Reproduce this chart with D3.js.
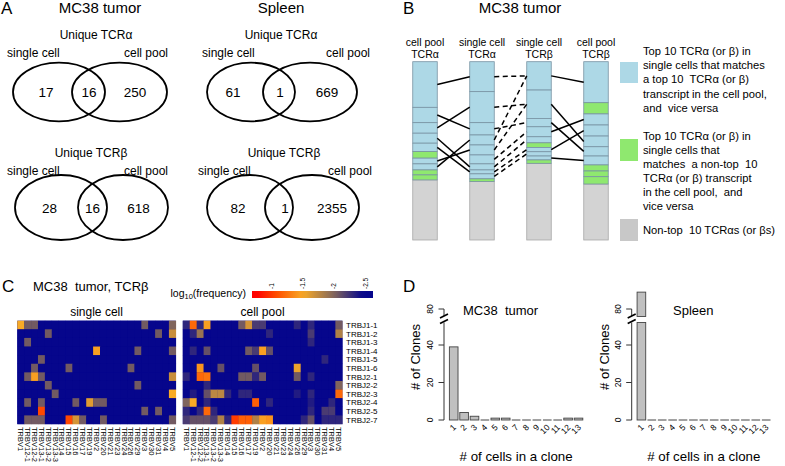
<!DOCTYPE html>
<html><head><meta charset="utf-8">
<script src="https://cdn.jsdelivr.net/npm/d3@7"></script>
<style>
body{margin:0;background:#fff}
svg{display:block}
text{font-family:"Liberation Sans",Arial,Helvetica,sans-serif;fill:#000}
</style>
</head><body>
<svg id="c" width="785" height="466"></svg>
<script>
// ---------------- DATA ----------------
// Panel A: Venn counts (MC38 TCRα, Spleen TCRα, MC38 TCRβ, Spleen TCRβ)
const vennTitles = ["Unique TCRα", "Unique TCRα", "Unique TCRβ", "Unique TCRβ"];
const vennSingleOnly = [17, 61, 28, 82];
const vennShared = [16, 1, 16, 1];
const vennPoolOnly = [250, 669, 618, 2355];
const tissueTitles = ["MC38 tumor", "Spleen"];

// Panel B: top-10 clonotype frequencies (% of transcripts) per column
const colHeader1 = ["cell pool", "single cell", "single cell", "cell pool"];
const colHeader2 = ["TCRα", "TCRα", "TCRβ", "TCRβ"];
const poolAlphaTop10 = [25.6, 8.6, 5.9, 5.6, 4.7, 3.7, 3.2, 3.4, 2.8, 2.8];
const singleAlphaTop10 = [16.8, 17.4, 6.9, 5.6, 5.6, 5.0, 3.4, 2.2, 2.8, 1.5];
const singleBetaTop10 = [15.9, 15.9, 4.7, 5.6, 3.4, 2.6, 2.4, 2.4, 2.2, 1.9];
const poolBetaTop10 = [23.0, 6.3, 6.2, 6.2, 6.0, 5.2, 5.0, 3.4, 3.2, 4.1];
// 1 = matches a top-10 of the other sample, 0 = matches a non-top-10
const poolAlphaMatch = [1, 1, 1, 1, 1, 0, 1, 1, 0, 0];
const singleAlphaMatch = [1, 1, 1, 1, 1, 1, 1, 1, 1, 0];
const singleBetaMatch = [1, 1, 1, 1, 1, 0, 1, 1, 1, 0];
const poolBetaMatch = [1, 0, 1, 1, 1, 1, 1, 0, 0, 0];
// links [from segment, to segment]
const linksPoolToSingleAlpha = [[0,0],[1,2],[2,1],[3,6],[4,7],[6,4],[7,3]];
const linksAlphaToBeta = [[0,0],[1,1],[2,2],[3,0],[4,1],[5,3],[6,4],[7,6],[8,7]];
const linksSingleToPoolBeta = [[0,0],[1,4],[2,5],[3,2],[6,3],[8,6]];
const legendText1 = ["Top 10 TCRα (or β) in", "single cells that matches", "a top 10  TCRα (or β)", "transcript in the cell pool,", "and  vice versa"];
const legendText2 = ["Top 10 TCRα (or β) in", "single cells that", "matches  a non-top  10", "TCRα (or β) transcript", "in the cell pool,  and", "vice versa"];
const legendText3 = ["Non-top  10 TCRαs (or βs)"];

// Panel C: heatmap log10(frequency), entries [row (TRBJ), col (TRBV), value]
const trbvGenes = ["TRBV1","TRBV12-1","TRBV12-2","TRBV13-1","TRBV13-2","TRBV13-3","TRBV14","TRBV15","TRBV16","TRBV17","TRBV19","TRBV2","TRBV20","TRBV21","TRBV23","TRBV24","TRBV26","TRBV29","TRBV3","TRBV30","TRBV31","TRBV4","TRBV5"];
const trbjGenes = ["TRBJ1-1","TRBJ1-2","TRBJ1-3","TRBJ1-4","TRBJ1-5","TRBJ1-6","TRBJ2-1","TRBJ2-2","TRBJ2-3","TRBJ2-4","TRBJ2-5","TRBJ2-7"];
const singleCellLogFreq = [
 [0,0,-1.5],[0,1,-2.05],[0,2,-2.05],[0,18,-2.05],[0,22,-2.0],
 [1,4,-2.05],[1,20,-2.05],[1,22,-1.7],
 [2,1,-2.05],
 [3,11,-1.45],[3,17,-2.05],[3,22,-2.05],
 [4,3,-2.05],
 [5,2,-2.05],[5,7,-2.05],[5,16,-2.05],
 [6,1,-2.05],[6,2,-1.45],[6,3,-2.05],[6,22,-1.7],
 [7,4,-2.05],[7,17,-2.05],
 [8,5,-2.05],[8,22,-1.5],
 [9,1,-2.05],[9,3,-2.05],[9,8,-2.05],[9,10,-1.6],[9,11,-2.05],[9,12,-2.05],
 [10,3,-1.05],[10,18,-2.05],[10,20,-2.05],
 [11,1,-2.05],[11,2,-2.05],[11,3,-2.05],[11,7,-1.05],[11,8,-1.65],[11,9,-2.05],[11,12,-2.05],[11,22,-2.05]
];
const cellPoolLogFreq = [
 [0,0,-2.3],[0,1,-1.2],[0,2,-2.3],[0,3,-1.45],[0,8,-2.05],[0,9,-1.65],[0,10,-2.2],[0,11,-2.2],[0,16,-2.3],[0,18,-2.3],[0,22,-2.05],
 [1,1,-2.3],[1,2,-1.9],[1,12,-2.3],[1,18,-2.2],[1,22,-1.8],
 [2,18,-2.3],
 [3,1,-2.3],[3,3,-2.1],[3,9,-2.05],[3,10,-2.2],[3,11,-1.45],[3,12,-2.1],
 [4,20,-2.3],
 [5,2,-1.4],[5,5,-2.1],[5,10,-2.1],[5,16,-1.55],
 [6,0,-2.3],[6,2,-1.2],[6,3,-1.25],[6,8,-2.05],[6,9,-2.05],[6,10,-2.3],[6,11,-2.05],[6,16,-2.05],[6,18,-2.3],
 [7,3,-2.3],[7,22,-2.0],
 [8,1,-2.35],[8,3,-2.1],[8,4,-1.75],[8,5,-1.75],[8,6,-2.3],[8,8,-2.3],[8,9,-2.3],[8,16,-2.35],[8,18,-2.3],[8,22,-1.2],
 [9,0,-2.0],[9,1,-1.5],[9,3,-2.3],[9,10,-1.15],[9,12,-2.3],[9,18,-2.35],[9,21,-2.3],
 [10,0,-2.3],[10,2,-2.3],[10,3,-1.2],[10,4,-2.3],[10,18,-2.3],[10,20,-2.2],[10,21,-2.2],
 [11,0,-2.2],[11,1,-2.1],[11,2,-2.1],[11,3,-2.1],[11,4,-2.2],[11,5,-1.8],[11,6,-2.3],[11,7,-1.0],[11,8,-1.15],[11,9,-1.15],[11,10,-1.8],[11,11,-1.45],[11,12,-1.4],[11,17,-2.3],[11,18,-2.1],[11,20,-2.3],[11,21,-2.3],[11,22,-2.3]
];
const colorbarTicks = [-1, -1.5, -2, -2.5];
const heatPanelTitles = ["single cell", "cell pool"];

// Panel D: clone size distribution
const cloneSizes = ["1","2","3","4","5","6","7","8","9","10","11","12","13"];
const mc38Clones = [39, 4, 2, 0, 1, 1, 0, 0, 0, 0, 0, 1, 1];
const spleenClones = [89, 0, 0, 0, 0, 0, 0, 0, 0, 0, 0, 0, 0];
const cloneYTicks = [0, 20, 40, 80];

// ---------------- DRAWING ----------------
const svg = d3.select("#c");
function T(x, y, s, size, anchor, g) {
  return (g || svg).append("text").attr("x", x).attr("y", y)
    .attr("font-size", size).attr("text-anchor", anchor || "start").text(s);
}

// Panel letters
T(1, 14, "A", 17); T(403, 14, "B", 17); T(2, 292, "C", 17); T(403, 292, "D", 17);

// ---- Panel A ----
T(100, 13, tissueTitles[0], 15, "middle");
T(281, 13, tissueTitles[1], 15, "middle");
const vennLayout = [
  {cy: 92, ry: 29.3, L: [59, 46], R: [119.5, 47.5], n: [46, 89, 135], sc: 7, cp: 168, tx: 96, ty: 39, ly: 57},
  {cy: 92, ry: 29.3, L: [251, 44], R: [310, 47], n: [233, 280, 327], sc: 202, cp: 370, tx: 281, ty: 39, ly: 57},
  {cy: 207.5, ry: 32.5, L: [61, 46], R: [123, 45], n: [49.5, 92.5, 138.5], sc: 7, cp: 168, tx: 91, ty: 157, ly: 175},
  {cy: 207.5, ry: 32.5, L: [250, 43], R: [312, 47], n: [238, 285, 332], sc: 198, cp: 372, tx: 284, ty: 157, ly: 175}
];
vennLayout.forEach((p, i) => {
  T(p.tx, p.ty, vennTitles[i], 12, "middle");
  T(p.sc, p.ly, "single cell", 12, "start");
  T(p.cp, p.ly, "cell pool", 12, "end");
  [p.L, p.R].forEach(e => svg.append("ellipse").attr("cx", e[0]).attr("cy", p.cy)
    .attr("rx", e[1]).attr("ry", p.ry).attr("fill", "none").attr("stroke", "#000").attr("stroke-width", 1.8));
  const vals = [vennSingleOnly[i], vennShared[i], vennPoolOnly[i]];
  vals.forEach((v, k) => T(p.n[k], p.cy + 5, String(v), 13.5, "middle"));
});

// ---- Panel B ----
T(520, 13, "MC38 tumor", 15, "middle");
const barData = [poolAlphaTop10, singleAlphaTop10, singleBetaTop10, poolBetaTop10];
const barMatch = [poolAlphaMatch, singleAlphaMatch, singleBetaMatch, poolBetaMatch];
const xB = d3.scalePoint().domain([0, 1, 2, 3]).range([425, 596]);
const yB = d3.scaleLinear().domain([0, 100]).range([61.7, 240]);
const bw = 24.5;
const C_BLUE = "#add8e6", C_GREEN = "#8fe86f", C_GRAY = "#d3d3d3";
const segs = barData.map(arr => {
  let acc = 0;
  return arr.map(v => { const s = {y0: acc, y1: acc + v}; acc += v; return s; });
});
barData.forEach((arr, i) => {
  const x0 = xB(i) - bw / 2;
  T(xB(i), 46, colHeader1[i], 10.5, "middle");
  T(xB(i), 58, colHeader2[i], 10.5, "middle");
  const total = d3.sum(arr);
  svg.append("rect").attr("x", x0).attr("y", yB(total)).attr("width", bw)
    .attr("height", yB(100) - yB(total)).attr("fill", C_GRAY).attr("stroke", "#a8a8a8").attr("stroke-width", 0.8);
  segs[i].forEach((s, k) => {
    svg.append("rect").attr("x", x0).attr("y", yB(s.y0)).attr("width", bw)
      .attr("height", yB(s.y1) - yB(s.y0))
      .attr("fill", barMatch[i][k] ? C_BLUE : C_GREEN)
      .attr("stroke", "#7893a3").attr("stroke-width", 0.8);
  });
});
function mid(i, k) { return yB((segs[i][k].y0 + segs[i][k].y1) / 2); }
function drawLinks(links, a, b, dashed) {
  links.forEach(([p, q]) => {
    svg.append("line").attr("x1", xB(a) + bw / 2).attr("y1", mid(a, p))
      .attr("x2", xB(b) - bw / 2).attr("y2", mid(b, q))
      .attr("stroke", "#000").attr("stroke-width", 1.5)
      .attr("stroke-dasharray", dashed ? "5,3.5" : null);
  });
}
drawLinks(linksPoolToSingleAlpha, 0, 1, false);
drawLinks(linksAlphaToBeta, 1, 2, true);
drawLinks(linksSingleToPoolBeta, 2, 3, false);
// legend
[[62, 83, C_BLUE, legendText1, 55, 14.2], [139, 161, C_GREEN, legendText2, 140, 13.9], [219, 241, "#c8c8c8", legendText3, 234, 14]]
  .forEach(([y0, y1, col, lines, by, step]) => {
    svg.append("rect").attr("x", 620).attr("y", y0).attr("width", 18).attr("height", y1 - y0).attr("fill", col);
    lines.forEach((l, k) => T(643, by + k * step, l, 11.2, "start").attr("xml:space", "preserve"));
  });

// ---- Panel C ----
T(33, 291, "MC38  tumor, TCRβ", 13, "start").attr("xml:space", "preserve");
const lt = svg.append("text").attr("x", 170.5).attr("y", 296.5).attr("font-size", 10.5);
lt.append("tspan").text("log");
lt.append("tspan").attr("font-size", 7.5).attr("dy", 2.5).text("10");
lt.append("tspan").attr("dy", -2.5).text("(frequency)");
const heatColor = d3.scaleLinear()
  .domain([-0.75, -1.1, -1.5, -2.0, -2.45])
  .range(["#ff0000", "#ff5400", "#f8aa26", "#80655d", "#06068c"])
  .clamp(true);
const cbX = d3.scaleLinear().domain([-0.68, -2.62]).range([252, 373]);
const grad = svg.append("defs").append("linearGradient").attr("id", "cb").attr("x1", "0").attr("x2", "1");
d3.range(0, 1.0001, 0.05).forEach(t => {
  grad.append("stop").attr("offset", t).attr("stop-color", heatColor(cbX.invert(252 + t * 121)));
});
svg.append("rect").attr("x", 252).attr("y", 291).attr("width", 121).attr("height", 7).attr("fill", "url(#cb)");
colorbarTicks.forEach(v => {
  svg.append("text").attr("transform", `translate(${cbX(v) + 2},289) rotate(-90)`)
    .attr("font-size", 6.5).attr("text-anchor", "start").text(String(v));
});
const heatY = d3.scaleBand().domain(trbjGenes).range([320.7, 424]);
[[singleCellLogFreq, 17.3, 175.8], [cellPoolLogFreq, 182.8, 342.3]].forEach(([cells, x0, x1], pi) => {
  const hx = d3.scaleBand().domain(trbvGenes).range([x0, x1]);
  const g = svg.append("g");
  const lookup = new Map(cells.map(d => [d[0] + "_" + d[1], d[2]]));
  g.append("rect").attr("x", x0).attr("y", 320.7).attr("width", x1 - x0).attr("height", 103.3).attr("fill", heatColor(-2.62));
  const all = d3.cross(d3.range(trbjGenes.length), d3.range(trbvGenes.length));
  g.selectAll("rect.cell").data(all).join("rect").attr("class", "cell")
    .attr("x", d => hx(trbvGenes[d[1]]))
    .attr("y", d => heatY(trbjGenes[d[0]]))
    .attr("width", hx.bandwidth() + 0.3).attr("height", heatY.bandwidth() + 0.3)
    .attr("fill", d => heatColor(lookup.has(d[0] + "_" + d[1]) ? lookup.get(d[0] + "_" + d[1]) : -2.62));
  T((x0 + x1) / 2, 315.5, heatPanelTitles[pi], 12, "middle");
  trbvGenes.forEach(gn => {
    svg.append("text").attr("transform", `translate(${hx(gn) + hx.bandwidth() / 2 - 2.6},427) rotate(90)`)
      .attr("font-size", 7.5).attr("fill", "#222").text(gn);
  });
});
trbjGenes.forEach(gn => T(346, heatY(gn) + heatY.bandwidth() / 2 + 3, gn, 8, "start"));

// ---- Panel D ----
function clonePanel(values, axisX, title, titleX, labX) {
  const x = d3.scaleBand().domain(cloneSizes).range([axisX + 4.5, axisX + 4.5 + 13 * 10.4])
    .paddingInner(0.17).paddingOuter(0.085);
  const yLow = d3.scaleLinear().domain([0, 52]).range([420, 322.5]);
  const yUp = d3.scaleLinear().domain([76, 92]).range([316.5, 286.5]);
  const g = svg.append("g");
  // axis
  g.append("line").attr("x1", axisX).attr("x2", axisX).attr("y1", yLow(0)).attr("y2", yLow(52)).attr("stroke", "#333");
  g.append("line").attr("x1", axisX).attr("x2", axisX).attr("y1", yUp(76)).attr("y2", yUp(80)).attr("stroke", "#333");
  cloneYTicks.forEach(v => {
    const yy = v < 52 ? yLow(v) : yUp(v);
    g.append("line").attr("x1", axisX - 5.5).attr("x2", axisX).attr("y1", yy).attr("y2", yy).attr("stroke", "#333");
    g.append("text").attr("transform", `translate(${axisX - 11},${yy}) rotate(-90)`)
      .attr("font-size", 8.5).attr("text-anchor", "middle").attr("fill", "#333").text(v);
  });
  // break marks
  g.append("polygon").attr("points", `${axisX-4},318 ${axisX+4},314 ${axisX+4},320 ${axisX-4},324`).attr("fill", "#fff");
  g.append("line").attr("x1", axisX - 4).attr("y1", 318).attr("x2", axisX + 4).attr("y2", 314).attr("stroke", "#000").attr("stroke-width", 1.6);
  g.append("line").attr("x1", axisX - 4).attr("y1", 323.5).attr("x2", axisX + 4).attr("y2", 319.5).attr("stroke", "#000").attr("stroke-width", 1.6);
  // bars
  values.forEach((v, i) => {
    const bx = x(cloneSizes[i]);
    if (v === 0) {
      g.append("line").attr("x1", bx).attr("x2", bx + x.bandwidth()).attr("y1", 420).attr("y2", 420).attr("stroke", "#444");
    } else if (v <= 52) {
      g.append("rect").attr("x", bx).attr("y", yLow(v)).attr("width", x.bandwidth()).attr("height", yLow(0) - yLow(v))
        .attr("fill", "#c0c0c0").attr("stroke", "#444").attr("stroke-width", 0.9);
    } else {
      g.append("rect").attr("x", bx).attr("y", yLow(52)).attr("width", x.bandwidth()).attr("height", yLow(0) - yLow(52))
        .attr("fill", "#c0c0c0").attr("stroke", "#444").attr("stroke-width", 0.9);
      g.append("rect").attr("x", bx).attr("y", yUp(v)).attr("width", x.bandwidth()).attr("height", yUp(76) - yUp(v))
        .attr("fill", "#c0c0c0").attr("stroke", "#444").attr("stroke-width", 0.9);
    }
    g.append("text").attr("transform", `translate(${bx + x.bandwidth() / 2 + 3},428) rotate(-45)`)
      .attr("font-size", 8.5).attr("text-anchor", "end").attr("fill", "#333").text(cloneSizes[i]);
  });
  T(titleX, 315, title, 13, "start", g).attr("xml:space", "preserve");
  g.append("text").attr("transform", `translate(${labX},357) rotate(-90)`).attr("font-size", 13)
    .attr("text-anchor", "middle").text("# of Clones");
  T(x.range()[0] + (x.range()[1] - x.range()[0]) / 2, 461, "# of cells in a clone", 13.3, "middle", g);
}
clonePanel(mc38Clones, 444, "MC38  tumor", 463, 420);
clonePanel(spleenClones, 631.7, "Spleen", 673, 609);
</script>
</body></html>
